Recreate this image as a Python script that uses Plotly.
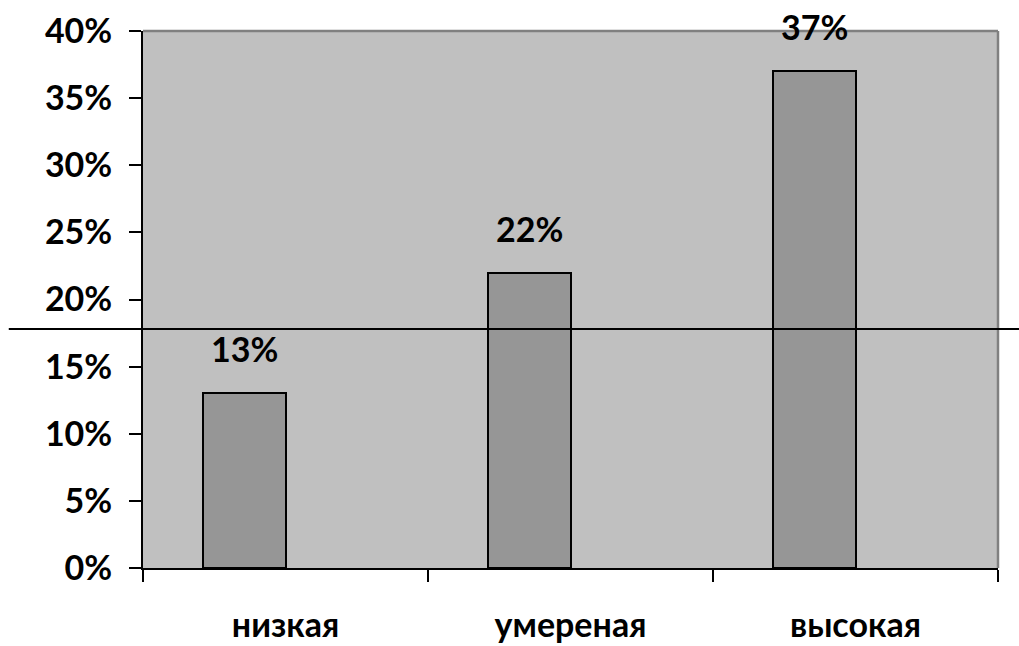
import plotly.graph_objects as go

categories = ["низкая", "умереная", "высокая"]
values = [13, 22, 37]
value_labels = ["13%", "22%", "37%"]
y_tick_vals = [0, 5, 10, 15, 20, 25, 30, 35, 40]
y_tick_text = ["0%", "5%", "10%", "15%", "20%", "25%", "30%", "35%", "40%"]
line_level = 17.8

FONT = "Lato"
SIZE = 34

fig = go.Figure()
fig.add_trace(go.Bar(
    x=categories, y=values,
    width=0.29, offset=-0.29,
    marker=dict(color="#969696", line=dict(color="black", width=2)),
    hoverinfo="skip",
))

for c, v, t in zip(categories, values, value_labels):
    fig.add_annotation(x=c, y=v, text=t, showarrow=False, xanchor="center",
                       yanchor="bottom", yshift=22, xshift=-41,
                       font=dict(family=FONT, size=SIZE, color="black", weight="bold"))

# gray top/right border
fig.add_shape(type="line", xref="paper", yref="paper", x0=0, x1=1, y0=1, y1=1,
              line=dict(color="#808080", width=2.5), layer="above")
fig.add_shape(type="line", xref="paper", yref="paper", x0=1, x1=1, y0=0, y1=1,
              line=dict(color="#808080", width=2.5), layer="above")
# horizontal line across the whole figure
fig.add_shape(type="line", xref="paper", yref="y", x0=-0.157, x1=1.03,
              y0=line_level, y1=line_level,
              line=dict(color="black", width=2), layer="above")

fig.update_layout(
    width=1019, height=646,
    margin=dict(l=143, r=21, t=31, b=78),
    paper_bgcolor="white", plot_bgcolor="#C0C0C0",
    showlegend=False,
    font=dict(family=FONT, size=SIZE, color="black", weight="bold"),
    bargap=0,
)
fig.update_xaxes(
    type="category", range=[-0.5, 2.5], automargin=False,
    showline=True, linecolor="black", linewidth=2,
    ticks="outside", ticklen=12, tickwidth=2, tickcolor="black",
    tickson="boundaries", showgrid=False, zeroline=False,
    ticklabelstandoff=26,
    tickfont=dict(family=FONT, size=SIZE, color="black", weight="bold"),
)
fig.update_yaxes(
    range=[0, 40], tickvals=y_tick_vals, ticktext=y_tick_text, automargin=False,
    showline=True, linecolor="black", linewidth=2,
    ticks="outside", ticklen=12, tickwidth=2, tickcolor="black",
    showgrid=False, zeroline=False, ticklabelstandoff=10,
    tickfont=dict(family=FONT, size=SIZE, color="black", weight="bold"),
)

fig.write_html("out.html")
